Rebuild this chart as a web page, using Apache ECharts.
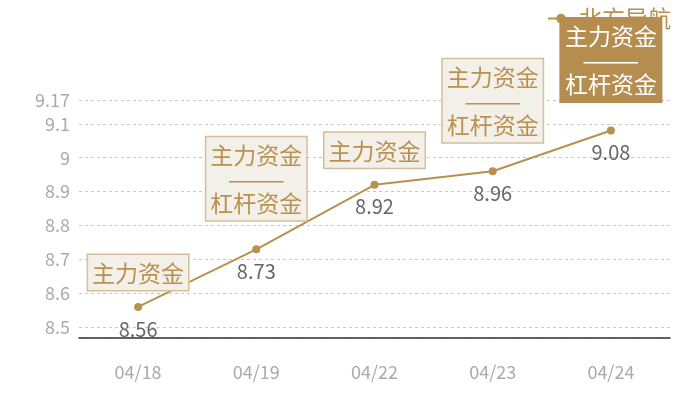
<!DOCTYPE html>
<html>
<head>
<meta charset="utf-8">
<script src="https://cdn.jsdelivr.net/npm/echarts@6/dist/echarts.min.js"></script>
<style>html,body{margin:0;padding:0;background:#fff}#c{width:700px;height:400px}</style>
</head>
<body>
<div id="c"></div>
<script>
const categories = ['04/18', '04/19', '04/22', '04/23', '04/24'];
const values = [8.56, 8.73, 8.92, 8.96, 9.08];
const boxTexts = ['主力资金', '主力资金\n———\n杠杆资金', '主力资金', '主力资金\n———\n杠杆资金', '主力资金\n———\n杠杆资金'];
const highlighted = [false, false, false, false, true];
const seriesName = '北方导航';
const yMin = 8.47;
const yMax = 9.17;

const FONT = '"Noto Sans CJK SC", "Noto Sans", sans-serif';
const GOLD = '#b8914f';

const boxData = values.map((v, i) => {
  const multi = boxTexts[i].indexOf('\n') >= 0;
  const hl = highlighted[i];
  return {
    value: v,
    label: {
      show: true,
      position: 'top',
      distance: multi ? 25 : 13,
      formatter: boxTexts[i],
      color: hl ? '#ffffff' : GOLD,
      backgroundColor: hl ? '#b58d4f' : '#f3efe9',
      borderColor: hl ? '#b58d4f' : '#d6bf98',
      borderWidth: 1.5,
      padding: [6, 4, 5, 4],
      fontSize: 23,
      lineHeight: 24,
      fontFamily: FONT,
      align: 'center'
    }
  };
});

const chart = echarts.init(document.getElementById('c'));
chart.setOption({
  animation: false,
  legend: {
    data: [seriesName],
    right: 24,
    top: 2,
    z: 1,
    itemWidth: 26,
    itemHeight: 12,
    itemGap: 8,
    textStyle: { color: GOLD, fontSize: 23, fontFamily: FONT }
  },
  grid: { left: 79, right: 30, top: 100, bottom: 62.5 },
  xAxis: {
    type: 'category',
    data: categories,
    boundaryGap: true,
    axisLine: { lineStyle: { color: '#333', width: 1.5 } },
    axisTick: { show: false },
    axisLabel: { color: '#aaa', fontSize: 18, margin: 26, fontFamily: FONT }
  },
  yAxis: {
    type: 'value',
    min: yMin,
    max: yMax,
    axisLine: { show: false },
    axisTick: { show: false },
    axisLabel: { color: '#aaa', fontSize: 18, margin: 9, showMinLabel: false, fontFamily: FONT },
    splitLine: { lineStyle: { color: '#c8c8c8', type: [3, 3] } }
  },
  series: [
    {
      name: seriesName,
      type: 'line',
      z: 3,
      data: values,
      symbol: 'circle',
      symbolSize: 8,
      itemStyle: { color: GOLD },
      lineStyle: { color: GOLD, width: 2 },
      label: {
        show: true,
        position: 'bottom',
        distance: 8,
        color: '#666',
        fontSize: 20,
        fontFamily: FONT
      }
    },
    {
      name: 'boxes',
      type: 'line',
      z: 5,
      data: boxData,
      symbol: 'circle',
      symbolSize: 8,
      itemStyle: { color: 'rgba(0,0,0,0)' },
      lineStyle: { color: 'rgba(0,0,0,0)', width: 0 },
      silent: true
    }
  ]
});
</script>
</body>
</html>
